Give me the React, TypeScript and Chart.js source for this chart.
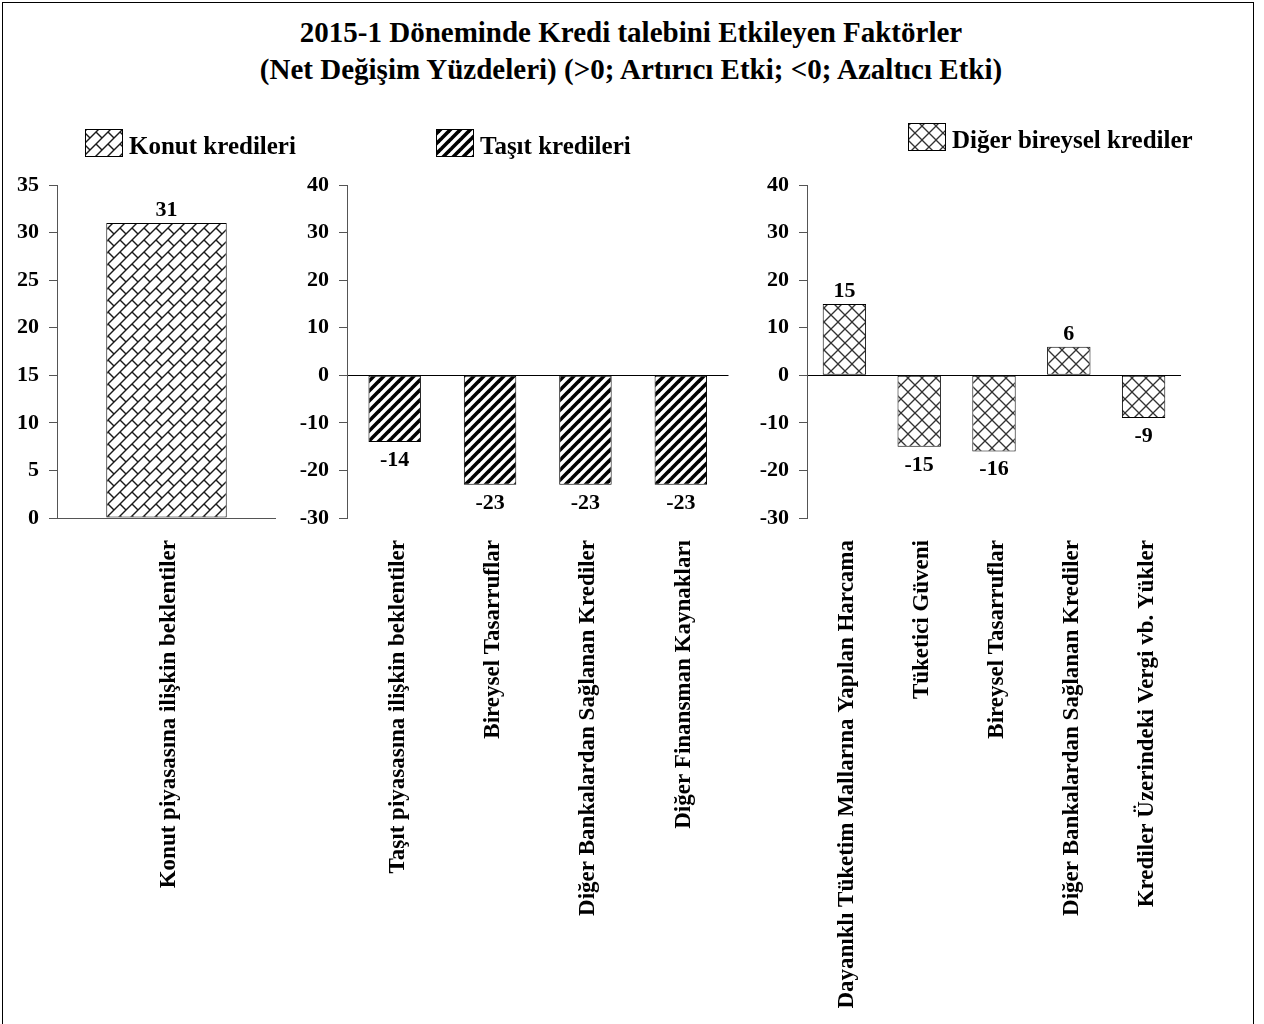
import React, { useEffect, useRef } from 'react';
import { Chart, registerables } from 'chart.js';

Chart.register(...registerables);

// ---------- data ----------
const titleLines = [
  '2015-1 Döneminde Kredi talebini Etkileyen Faktörler',
  '(Net Değişim Yüzdeleri) (>0; Artırıcı Etki; <0; Azaltıcı Etki)',
];

const konutLabel = 'Konut kredileri';
const konutCategories = ['Konut piyasasına ilişkin beklentiler'];
const konutValues = [31];
const konutTicks = { min: 0, max: 35, step: 5 };

const tasitLabel = 'Taşıt kredileri';
const tasitCategories = [
  'Taşıt piyasasına ilişkin beklentiler',
  'Bireysel Tasarruflar',
  'Diğer Bankalardan Sağlanan Krediler',
  'Diğer Finansman Kaynakları',
];
const tasitValues = [-14, -23, -23, -23];
const tasitTicks = { min: -30, max: 40, step: 10 };

const digerLabel = 'Diğer bireysel krediler';
const digerCategories = [
  'Dayanıklı Tüketim Mallarına Yapılan Harcama',
  'Tüketici Güveni',
  'Bireysel Tasarruflar',
  'Diğer Bankalardan Sağlanan Krediler',
  'Krediler Üzerindeki Vergi vb. Yükler',
];
const digerValues = [15, -15, -16, 6, -9];
const digerTicks = { min: -30, max: 40, step: 10 };

// ---------- styling ----------
const FONT = '"Liberation Serif", "Times New Roman", serif';
const PAGE_H = 1024;
const AREA_TOP = 185;
const AREA_BOTTOM = 518;

type PatternKind = 'brick' | 'stripe' | 'diamond';

function makePattern(kind: PatternKind): CanvasPattern | string {
  const s = kind === 'brick' ? 12 : kind === 'stripe' ? 10 : 14;
  const c = document.createElement('canvas');
  c.width = s;
  c.height = s;
  const g = c.getContext('2d');
  if (!g) return '#fff';
  g.fillStyle = '#fff';
  g.fillRect(0, 0, s, s);
  const slash = () => {
    for (let k = 0; k <= 2; k++) {
      g.beginPath();
      g.moveTo(k * s + 3, -3);
      g.lineTo(k * s - s - 3, s + 3);
      g.stroke();
    }
  };
  if (kind === 'brick') {
    g.strokeStyle = '#1a1a1a';
    g.lineWidth = 1.4;
    slash();
    for (let i = -1; i <= 1; i++) {
      for (let j = -1; j <= 1; j++) {
        g.beginPath();
        g.moveTo(i * s, j * s);
        g.lineTo(i * s + s / 2, j * s + s / 2);
        g.stroke();
      }
    }
  } else if (kind === 'stripe') {
    g.strokeStyle = '#000';
    g.lineWidth = 3.6;
    slash();
  } else {
    g.strokeStyle = '#333';
    g.lineWidth = 1.3;
    slash();
    for (let k = -1; k <= 1; k++) {
      g.beginPath();
      g.moveTo(k * s - 3, -3);
      g.lineTo(k * s + s + 3, s + 3);
      g.stroke();
    }
  }
  const ctx = document.createElement('canvas').getContext('2d');
  const p = ctx ? ctx.createPattern(c, 'repeat') : null;
  return p || '#fff';
}

const valueLabelPlugin = {
  id: 'valueLabels',
  afterDatasetsDraw(chart: any) {
    const ctx = chart.ctx;
    const meta = chart.getDatasetMeta(0);
    const data = chart.data.datasets[0].data as number[];
    ctx.save();
    ctx.font = `bold 22px ${FONT}`;
    ctx.fillStyle = '#000';
    ctx.textAlign = 'center';
    ctx.textBaseline = 'alphabetic';
    meta.data.forEach((bar: any, i: number) => {
      const v = data[i];
      if (v >= 0) ctx.fillText(String(v), bar.x, bar.y - 7);
      else ctx.fillText(String(v), bar.x, bar.y + 24);
    });
    ctx.restore();
  },
};

const patternLegendPlugin = {
  id: 'patternLegend',
  afterDraw(chart: any, _args: any, opts: any) {
    if (!opts || !opts.text) return;
    const ctx = chart.ctx;
    ctx.save();
    ctx.fillStyle = chart.data.datasets[0].backgroundColor;
    ctx.fillRect(opts.x, opts.y, 38, 28);
    ctx.strokeStyle = '#000';
    ctx.lineWidth = 1;
    ctx.strokeRect(opts.x + 0.5, opts.y + 0.5, 37, 27);
    ctx.fillStyle = '#000';
    ctx.font = `bold 25px ${FONT}`;
    ctx.textAlign = 'left';
    ctx.textBaseline = 'alphabetic';
    ctx.fillText(opts.text, opts.x + 44, opts.y + 25);
    ctx.restore();
  },
};

type PanelProps = {
  left: number;
  width: number;
  categories: string[];
  values: number[];
  label: string;
  pattern: PatternKind;
  ticks: { min: number; max: number; step: number };
  yWidth: number;
  padRight: number;
  barPct: number;
  zeroColor: string;
  legendX: number;
  legendY: number;
};

function Panel(p: PanelProps) {
  const ref = useRef<HTMLCanvasElement | null>(null);
  useEffect(() => {
    if (!ref.current) return;
    const tickFont = { family: FONT, size: 22, weight: 'bold' as const };
    const catFont = { family: FONT, size: 23, weight: 'bold' as const };
    const chart = new Chart(ref.current, {
      type: 'bar',
      data: {
        labels: p.categories,
        datasets: [
          {
            label: p.label,
            data: p.values,
            backgroundColor: makePattern(p.pattern) as any,
            borderColor: '#000',
            borderWidth: 1,
            borderSkipped: false,
            categoryPercentage: 1,
            barPercentage: p.barPct,
          },
        ],
      },
      options: {
        responsive: false,
        animation: false,
        layout: { padding: { left: 0, right: p.padRight, top: AREA_TOP, bottom: 0 } },
        plugins: {
          legend: { display: false },
          tooltip: { enabled: false },
          patternLegend: { x: p.legendX - p.left, y: p.legendY, text: p.label },
        } as any,
        scales: {
          x: {
            type: 'category',
            offset: true,
            grid: { display: false, drawTicks: false },
            border: { display: false },
            ticks: {
              autoSkip: false,
              maxRotation: 90,
              minRotation: 90,
              padding: 22,
              labelOffset: 3,
              color: '#000',
              font: catFont,
            },
            afterFit: (scale: any) => {
              scale.height = PAGE_H - AREA_BOTTOM;
            },
          },
          y: {
            min: p.ticks.min,
            max: p.ticks.max,
            ticks: { stepSize: p.ticks.step, padding: 10, color: '#000', font: tickFont },
            grid: {
              color: (c: any) => (c.tick && c.tick.value === 0 ? p.zeroColor : 'rgba(0,0,0,0)'),
              tickColor: '#555',
              tickLength: 8,
              lineWidth: 1,
            },
            border: { display: true, color: '#555', width: 1 },
            afterFit: (scale: any) => {
              scale.width = p.yWidth;
            },
          },
        },
      },
      plugins: [valueLabelPlugin, patternLegendPlugin],
    });
    return () => chart.destroy();
  }, []);
  return (
    <canvas
      ref={ref}
      width={p.width}
      height={PAGE_H}
      style={{ position: 'absolute', left: p.left, top: 0, width: p.width, height: PAGE_H }}
    />
  );
}

export default function App() {
  return (
    <div
      style={{
        position: 'absolute',
        left: 0,
        top: 0,
        width: 1264,
        height: PAGE_H,
        overflow: 'hidden',
        background: '#fff',
      }}
    >
      <div
        style={{
          position: 'absolute',
          left: 2,
          top: 2,
          width: 1250,
          height: 1060,
          border: '1px solid #000',
        }}
      />
      <div
        style={{
          position: 'absolute',
          left: 4,
          top: 14,
          width: 1254,
          textAlign: 'center',
          fontFamily: FONT,
          fontWeight: 'bold',
          fontSize: 29,
          lineHeight: '37px',
          color: '#000',
        }}
      >
        {titleLines.map((t) => (
          <div key={t}>{t}</div>
        ))}
      </div>
      <Panel
        left={0}
        width={330}
        categories={konutCategories}
        values={konutValues}
        label={konutLabel}
        pattern="brick"
        ticks={konutTicks}
        yWidth={57}
        padRight={54}
        barPct={0.55}
        zeroColor="#555"
        legendX={85}
        legendY={129}
      />
      <Panel
        left={280}
        width={470}
        categories={tasitCategories}
        values={tasitValues}
        label={tasitLabel}
        pattern="stripe"
        ticks={tasitTicks}
        yWidth={67}
        padRight={21.5}
        barPct={0.55}
        zeroColor="#000"
        legendX={436}
        legendY={129}
      />
      <Panel
        left={740}
        width={524}
        categories={digerCategories}
        values={digerValues}
        label={digerLabel}
        pattern="diamond"
        ticks={digerTicks}
        yWidth={67}
        padRight={83}
        barPct={0.58}
        zeroColor="#000"
        legendX={908}
        legendY={123}
      />
    </div>
  );
}
